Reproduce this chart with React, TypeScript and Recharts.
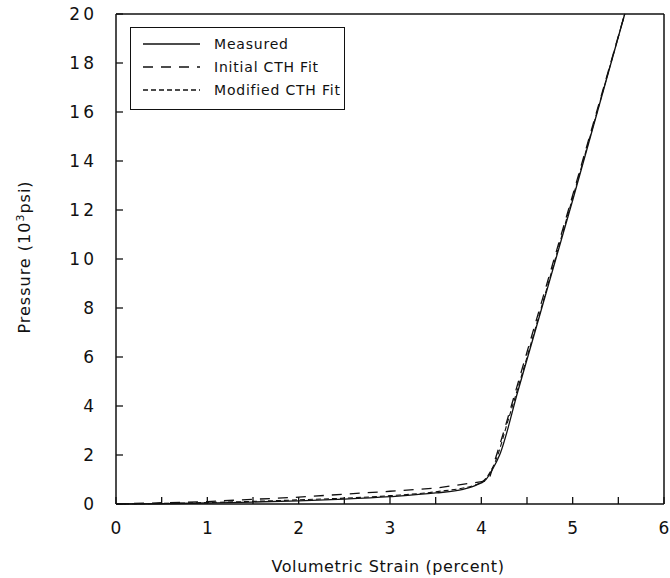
import React from "react";
import { LineChart, Line, XAxis, YAxis } from "recharts";

// strain (percent) vs pressure (10^3 psi)
const measuredStrain = [0, 0.5, 1, 1.5, 2, 2.5, 3, 3.5, 3.8, 3.95, 4.05, 4.12, 4.2, 4.4, 5.0, 5.57];
const measuredPressure = [0, 0.01, 0.04, 0.08, 0.13, 0.2, 0.3, 0.45, 0.6, 0.78, 1.0, 1.4, 2.0, 4.6, 12.4, 20];

const initialStrain = [0, 1, 2, 3, 3.5, 4.08, 4.15, 4.25, 5.0, 5.57];
const initialPressure = [0, 0.1, 0.28, 0.52, 0.65, 0.95, 1.8, 3.0, 12.6, 20];

const modifiedStrain = [0, 1, 2, 3, 3.5, 3.95, 4.05, 4.15, 4.3, 5.0, 5.57];
const modifiedPressure = [0, 0.06, 0.17, 0.34, 0.5, 0.8, 1.05, 1.7, 3.5, 12.5, 20];

const xTicks = [0, 0.5, 1, 1.5, 2, 2.5, 3, 3.5, 4, 4.5, 5, 5.5, 6];
const yTicks = [0, 2, 4, 6, 8, 10, 12, 14, 16, 18, 20];

const legendItems = [
  { name: "Measured", dash: undefined },
  { name: "Initial CTH Fit", dash: "10 8" },
  { name: "Modified CTH Fit", dash: "5 3" },
];

const zip = (xs: number[], ys: number[]) => xs.map((x, i) => ({ x, y: ys[i] }));
const measured = zip(measuredStrain, measuredPressure);
const initial = zip(initialStrain, initialPressure);
const modified = zip(modifiedStrain, modifiedPressure);

const FONT = "'DejaVu Sans', sans-serif";
const INK = "#111";
const TICK = 7;

const BottomTick = (props: any) => {
  const { x, y, payload } = props;
  const v = payload.value;
  return (
    <g>
      <line x1={x} y1={y} x2={x} y2={y - TICK} stroke={INK} strokeWidth={1.3} />
      {Number.isInteger(v) && (
        <text x={x} y={y + 30} textAnchor="middle" fontFamily={FONT} fontSize={17} fill={INK}>
          {v}
        </text>
      )}
    </g>
  );
};

const TopTick = (props: any) => {
  const { x, y } = props;
  return <line x1={x} y1={y} x2={x} y2={y + TICK} stroke={INK} strokeWidth={1.3} />;
};

const LeftTick = (props: any) => {
  const { x, y, payload } = props;
  const v = String(payload.value);
  return (
    <g>
      <line x1={x} y1={y} x2={x + TICK} y2={y} stroke={INK} strokeWidth={1.3} />
      <text x={x - 19} y={y + 6} textAnchor="end" fontFamily={FONT} fontSize={17} fill={INK} letterSpacing={3}>
        {v}
      </text>
    </g>
  );
};

const RightTick = (props: any) => {
  const { x, y } = props;
  return <line x1={x} y1={y} x2={x - TICK} y2={y} stroke={INK} strokeWidth={1.3} />;
};

export default function App() {
  return (
    <div style={{ position: "absolute", left: 0, top: 0, width: 670, height: 578, background: "#fff" }}>
      <LineChart width={670} height={578} margin={{ top: 13, right: 5, bottom: 73, left: 115 }}>
        <XAxis
          xAxisId="b"
          type="number"
          dataKey="x"
          domain={[0, 6]}
          ticks={xTicks}
          interval={0}
          height={1}
          tickSize={0}
          tickMargin={0}
          tick={<BottomTick />}
          axisLine={{ stroke: INK, strokeWidth: 1.5 }}
        />
        <XAxis
          xAxisId="t"
          orientation="top"
          type="number"
          dataKey="x"
          domain={[0, 6]}
          ticks={xTicks}
          interval={0}
          height={1}
          tickSize={0}
          tickMargin={0}
          tick={<TopTick />}
          axisLine={{ stroke: INK, strokeWidth: 1.5 }}
        />
        <YAxis
          yAxisId="l"
          type="number"
          domain={[0, 20]}
          ticks={yTicks}
          interval={0}
          width={1}
          tickSize={0}
          tickMargin={0}
          tick={<LeftTick />}
          axisLine={{ stroke: INK, strokeWidth: 1.5 }}
        />
        <YAxis
          yAxisId="r"
          orientation="right"
          type="number"
          domain={[0, 20]}
          ticks={yTicks}
          interval={0}
          width={1}
          tickSize={0}
          tickMargin={0}
          tick={<RightTick />}
          axisLine={{ stroke: INK, strokeWidth: 1.5 }}
        />
        <Line xAxisId="b" yAxisId="l" data={measured} dataKey="y" type="monotone" stroke={INK} strokeWidth={1.3} dot={false} isAnimationActive={false} />
        <Line xAxisId="b" yAxisId="l" data={initial} dataKey="y" type="linear" stroke={INK} strokeWidth={1.3} strokeDasharray="10 8" dot={false} isAnimationActive={false} />
        <Line xAxisId="b" yAxisId="l" data={modified} dataKey="y" type="monotone" stroke={INK} strokeWidth={1.1} strokeDasharray="5 3" dot={false} isAnimationActive={false} />
      </LineChart>

      <div
        style={{
          position: "absolute",
          left: 24,
          top: 257,
          transform: "translate(-50%, -50%) rotate(-90deg)",
          whiteSpace: "nowrap",
          fontFamily: FONT,
          fontSize: 16,
          color: INK,
          letterSpacing: 1,
        }}
      >
        Pressure (10<sup style={{ fontSize: 11 }}>3</sup>psi)
      </div>
      <div
        style={{
          position: "absolute",
          left: 388,
          top: 566,
          transform: "translate(-50%, -50%)",
          whiteSpace: "nowrap",
          fontFamily: FONT,
          fontSize: 16,
          color: INK,
          letterSpacing: 0.6,
        }}
      >
        Volumetric Strain (percent)
      </div>

      <div
        style={{
          position: "absolute",
          left: 130,
          top: 27,
          width: 213,
          height: 81,
          border: "1.5px solid #111",
          background: "#fff",
        }}
      >
        {legendItems.map((it, i) => (
          <div key={it.name} style={{ position: "absolute", left: 12, top: 7 + i * 23, height: 18, display: "flex", alignItems: "center" }}>
            <svg width={58} height={18}>
              <line x1={0} y1={9} x2={57} y2={9} stroke={INK} strokeWidth={1.3} strokeDasharray={it.dash} />
            </svg>
            <span style={{ marginLeft: 13, fontFamily: FONT, fontSize: 14, color: INK, letterSpacing: 0.8 }}>{it.name}</span>
          </div>
        ))}
      </div>
    </div>
  );
}
